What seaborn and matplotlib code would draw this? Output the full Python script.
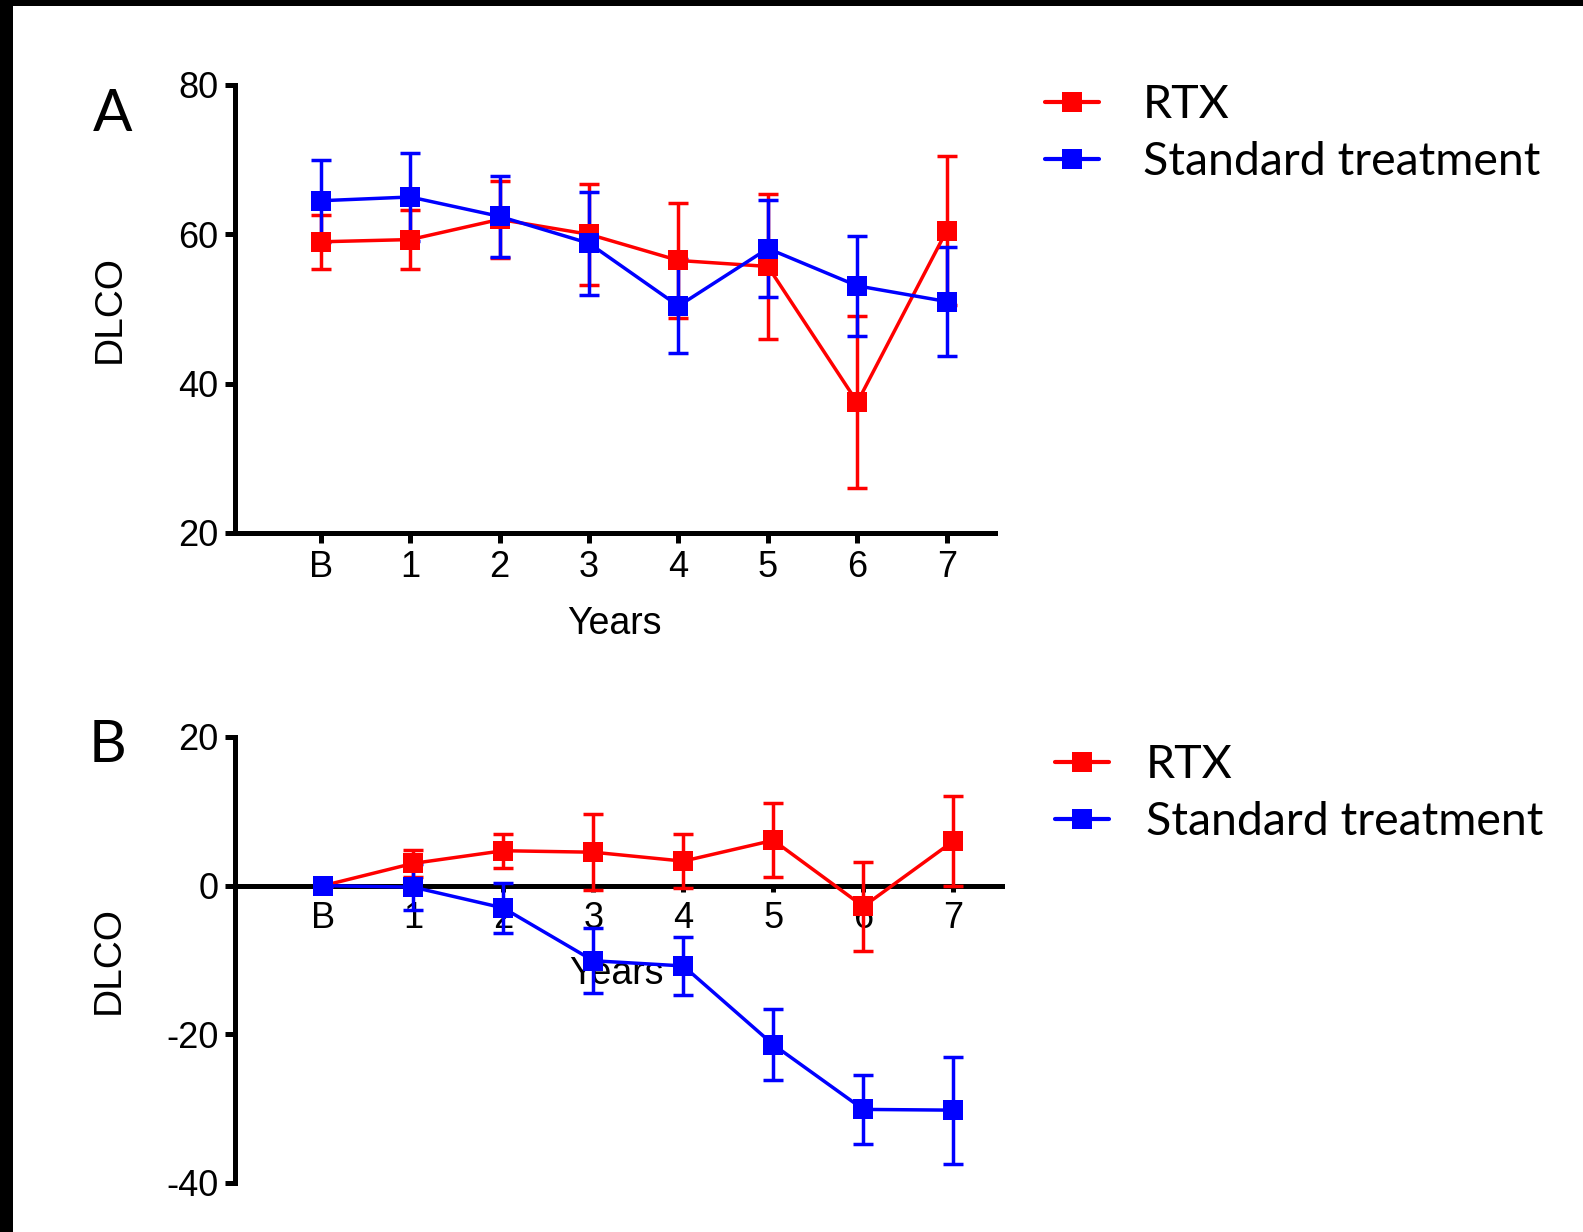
import matplotlib
matplotlib.use("Agg")
import matplotlib.pyplot as plt
from matplotlib.lines import Line2D
from matplotlib.patches import Rectangle
import numpy as np
import pandas as pd
import seaborn as sns

# ---- data -------------------------------------------------------------
years = ["B", "1", "2", "3", "4", "5", "6", "7"]
groups = ["RTX", "Standard treatment"]

# Panel A: absolute DLCO (mean and error)
a_rtx_mean = [59.0, 59.3, 62.0, 60.0, 56.5, 55.7, 37.5, 60.5]
a_rtx_err = [3.6, 3.9, 5.2, 6.8, 7.7, 9.7, 11.5, 10.0]
a_std_mean = [64.5, 65.0, 62.4, 58.8, 50.4, 58.1, 53.1, 51.0]
a_std_err = [5.5, 5.9, 5.4, 6.9, 6.3, 6.5, 6.7, 7.3]

# Panel B: change of DLCO from baseline (mean and error)
b_rtx_mean = [0.0, 3.0, 4.7, 4.5, 3.3, 6.1, -2.8, 6.0]
b_rtx_err = [0.0, 1.8, 2.3, 5.1, 3.6, 5.0, 6.0, 6.1]
b_std_mean = [0.0, -0.2, -3.0, -10.1, -10.8, -21.4, -30.1, -30.2]
b_std_err = [0.0, 3.1, 3.4, 4.4, 3.9, 4.8, 4.6, 7.2]

a_ticks = [20, 40, 60, 80]
b_ticks = [-40, -20, 0, 20]

colors = {"RTX": "#ff0000", "Standard treatment": "#0000ff"}

# ---- style --------------------------------------------------------------
sns.set_theme(style="ticks")
plt.rcParams["font.family"] = ["Liberation Sans", "DejaVu Sans"]
plt.rcParams["axes.unicode_minus"] = False
plt.rcParams["text.color"] = "black"
plt.rcParams["axes.labelcolor"] = "black"

W, H = 1583, 1232
fig = plt.figure(figsize=(W / 100, H / 100), dpi=100)
fig.patch.set_facecolor("white")

LW = 2.5
MS = 15
CAP = 7.5
SPINE = 3.6
TICKFS = 26
LEGFS = 33.5


def frame(panel_df, ax):
    x = np.arange(len(years))
    for g in groups:
        sub = panel_df[panel_df["group"] == g]
        ax.errorbar(x, sub["mean"], yerr=sub["err"], fmt="none",
                    ecolor=colors[g], elinewidth=LW, capsize=CAP,
                    capthick=LW, zorder=3)
    sns.lineplot(data=panel_df, x="pos", y="mean", hue="group",
                 palette=colors, marker="s", markersize=MS,
                 markeredgewidth=0, linewidth=LW, ax=ax, legend=False,
                 zorder=4)
    ax.set_xticks(x)
    ax.set_xticklabels(years)
    for side in ("top", "right"):
        ax.spines[side].set_visible(False)
    for side in ("left", "bottom"):
        ax.spines[side].set_linewidth(SPINE)
        ax.spines[side].set_color("black")
    ax.tick_params(axis="both", colors="black", labelsize=TICKFS,
                   width=SPINE, direction="out")
    ax.set_facecolor("white")


def build(m1, e1, m2, e2):
    rows = []
    for g, m, e in ((groups[0], m1, e1), (groups[1], m2, e2)):
        for i, (mv, ev) in enumerate(zip(m, e)):
            rows.append({"group": g, "pos": i, "year": years[i],
                         "mean": mv, "err": ev})
    return pd.DataFrame(rows)


df_a = build(a_rtx_mean, a_rtx_err, a_std_mean, a_std_err)
df_b = build(b_rtx_mean, b_rtx_err, b_std_mean, b_std_err)

# ---- panel A ----------------------------------------------------------
axA = fig.add_axes([235 / W, 1 - 533 / H, (995 - 235) / W, 448 / H])
frame(df_a, axA)
axA.set_ylim(20, 80)
axA.set_yticks(a_ticks)
axA.set_xlim(-0.96, 7.54)
axA.tick_params(axis="both", length=7, pad=5)
axA.set_xlabel("Years", fontsize=27)
axA.xaxis.set_label_coords(0.499, -0.163)
axA.set_ylabel("DLCO", fontsize=28)
axA.yaxis.set_label_coords(-0.141, 0.5)

# ---- panel B ----------------------------------------------------------
axB = fig.add_axes([235 / W, 1 - 1183 / H, (1002 - 235) / W, 446 / H])
frame(df_b, axB)
axB.set_ylim(-40, 20)
axB.set_yticks(b_ticks)
axB.set_xlim(-0.98, 7.54)
axB.spines["bottom"].set_position(("data", 0))
axB.tick_params(axis="y", length=7, pad=5)
axB.tick_params(axis="x", length=4, pad=7)
axB.set_xlabel("Years", fontsize=27)
axB.xaxis.set_label_coords(0.497, 0.509)
axB.set_ylabel("DLCO", fontsize=28)
axB.yaxis.set_label_coords(-0.141, 0.5)

# ---- panel letters ----------------------------------------------------
fig.text(93 / W, 1 - 131 / H, "A", fontsize=42, family=["Lato", "DejaVu Sans"],
         ha="left", va="baseline")
fig.text(89 / W, 1 - 762 / H, "B", fontsize=42, family=["Lato", "DejaVu Sans"],
         ha="left", va="baseline")

# ---- legends ----------------------------------------------------------
handles = [Line2D([], [], color=colors[g], marker="s", markersize=MS,
                  markeredgewidth=0, linewidth=3.0) for g in groups]
for ax, (lx, ly, pad) in ((axA, (1045, 84, 0.95)), (axB, (1055, 744, 0.8))):
    ax.legend(handles, groups, loc="upper left",
              bbox_to_anchor=(lx / W, 1 - ly / H),
              bbox_transform=fig.transFigure, frameon=False,
              prop={"family": ["Lato", "DejaVu Sans"], "size": LEGFS},
              handlelength=1.15, handletextpad=pad, labelspacing=0.32,
              borderpad=0, borderaxespad=0)

# ---- black border strips ----------------------------------------------
fig.add_artist(Rectangle((0, 1 - 6 / H), 1, 6 / H, transform=fig.transFigure,
                         facecolor="black", edgecolor="none"))
fig.add_artist(Rectangle((0, 0), 13 / W, 1, transform=fig.transFigure,
                         facecolor="black", edgecolor="none"))

fig.savefig("out.png", dpi=100, facecolor="white")
